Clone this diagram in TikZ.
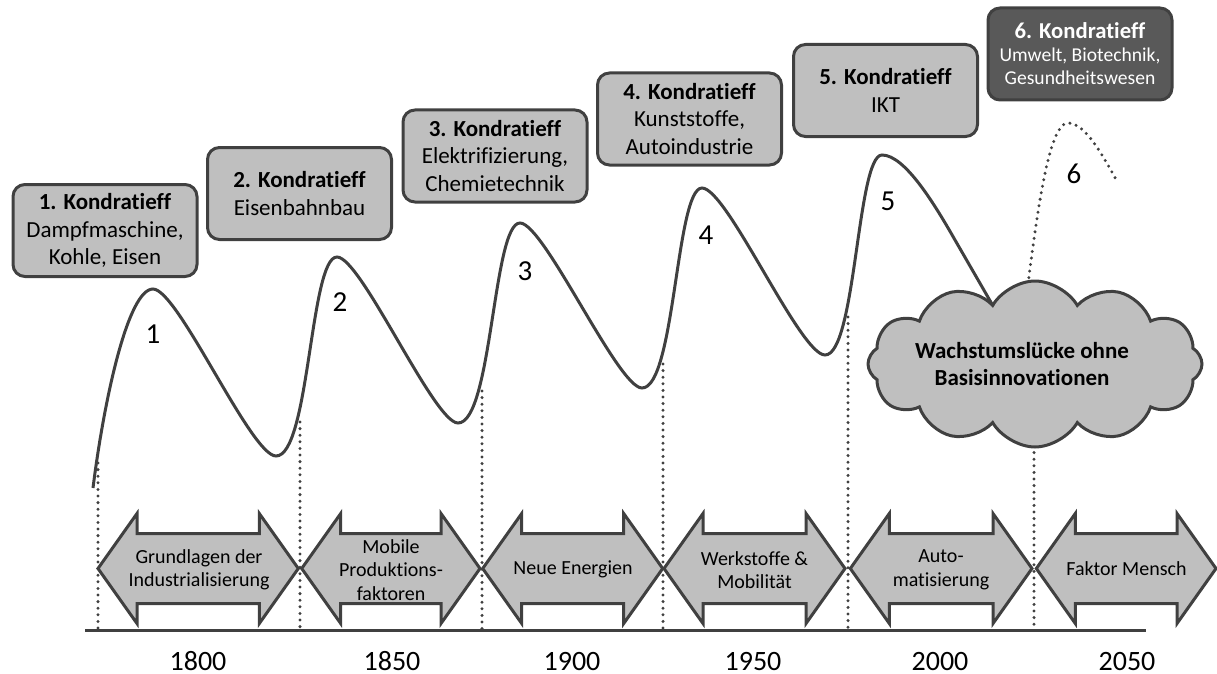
\documentclass[tikz,border=0pt]{standalone}
\usepackage{fontspec}
\setmainfont{Carlito}[Ligatures=NoCommon, Numbers=Lining]
\usetikzlibrary{shapes.symbols}
\definecolor{edge}{HTML}{404040}
\definecolor{boxfill}{HTML}{BFBFBF}
\definecolor{darkfill}{HTML}{595959}
\begin{document}
\begin{tikzpicture}[x=1pt,y=-1pt,
  kbox/.style={draw=edge, fill=boxfill, line width=3pt, rounded corners=12pt,
    minimum width=184pt, minimum height=92pt, align=center, inner sep=0pt,
    font=\fontsize{23}{27.5}\selectfont},
  darkbox/.style={kbox, fill=darkfill, text=white},
  curve/.style={draw=edge, line width=3pt},
  dots/.style={draw=edge, line width=3.3pt, line cap=round, dash pattern=on 0pt off 6.6pt},
  arrowshape/.style={draw=edge, fill=boxfill, line width=3pt, line join=miter},
  arrowtext/.style={align=center, inner sep=0pt, font=\fontsize{20}{23.5}\selectfont},
  yeartext/.style={inner sep=0pt, anchor=base, font=\fontsize{28}{32}\selectfont},
  wavenum/.style={inner sep=0pt, anchor=base, font=\fontsize{29}{32}\selectfont},
  cloudshape/.style={cloud, cloud puffs=12, cloud puff arc=120, aspect=2,
    draw=edge, fill=boxfill, line width=3pt, minimum width=334pt, minimum height=166pt, inner sep=0pt}
]
\useasboundingbox (0,0) rectangle (1217,674);

% coordinates for dotted lines
\coordinate (d1t) at (98,463);   \coordinate (d1b) at (98,630);
\coordinate (d2t) at (300,422);  \coordinate (d2b) at (300,630);
\coordinate (d3t) at (482,391);  \coordinate (d3b) at (482,630);
\coordinate (d4t) at (663,364);  \coordinate (d4b) at (663,630);
\coordinate (d5t) at (848,317);  \coordinate (d5b) at (848,630);
\coordinate (d6t) at (1034,380); \coordinate (d6b) at (1034,630);

\foreach \i in {1,...,6} { \draw[dots] (d\i t) -- (d\i b); }

% main wave
\coordinate (s0) at (93,488);
\coordinate (p1) at (153,289);
\coordinate (t1) at (276,456);
\coordinate (p2) at (337,257);
\coordinate (t2) at (458,423);
\coordinate (p3) at (520,223);
\coordinate (t3) at (642,388);
\coordinate (p4) at (702,188);
\coordinate (t4) at (825,355);
\coordinate (p5) at (882,155);
\coordinate (e5) at (1000,318);
\draw[curve] (s0) .. controls (104,400) and (128,289) .. (p1)
  .. controls (178,289) and (251,456) .. (t1)
  .. controls (309.5,456) and (310,257) .. (p2)
  .. controls (361,257) and (434,423) .. (t2)
  .. controls (492,423) and (493,223) .. (p3)
  .. controls (544,223) and (618,388) .. (t3)
  .. controls (675,388) and (676,188) .. (p4)
  .. controls (727,188) and (800,355) .. (t4)
  .. controls (856,355) and (857,155) .. (p5)
  .. controls (905,155) and (935,205) .. (955,240) -- (e5);

% dotted future wave
\coordinate (f0) at (1022,330);
\coordinate (p6) at (1068,123);
\coordinate (f1) at (1118,183);
\draw[dots] (f0) .. controls (1034,240) and (1046,123) .. (p6)
  .. controls (1086,123) and (1104,158) .. (f1);

% cloud
\node[cloudshape] (gap) at (1035,364) {};
\node[inner sep=0pt, align=center, font=\fontsize{23}{27}\selectfont\bfseries] (gaptext) at (1022,364)
  {Wachstumslücke ohne\\Basisinnovationen};

% wave numbers (baselines)
\node[wavenum] (n1) at (153,343) {1};
\node[wavenum] (n2) at (340,311) {2};
\node[wavenum] (n3) at (525,280) {3};
\node[wavenum] (n4) at (706,244) {4};
\node[wavenum] (n5) at (888,210) {5};
\node[wavenum] (n6) at (1074,183) {6};

% boxes
\node[kbox] (k1) at (105,230.5) {\textbf{1. Kondratieff}\\Dampfmaschine,\\Kohle, Eisen};
\node[kbox] (k2) at (299.5,193.5) {\textbf{2. Kondratieff}\\Eisenbahnbau};
\node[kbox] (k3) at (495,156) {\textbf{3. Kondratieff}\\Elektrifizierung,\\Chemietechnik};
\node[kbox] (k4) at (689.5,119) {\textbf{4. Kondratieff}\\Kunststoffe,\\Autoindustrie};
\node[kbox] (k5) at (885.5,90.5) {\textbf{5. Kondratieff}\\IKT};
\node[darkbox, font=\fontsize{19.6}{23}\selectfont] (k6) at (1080,54)
  {{\fontsize{22.7}{23}\selectfont\bfseries 6. Kondratieff}\\Umwelt, Biotechnik,\\Gesundheitswesen};

% double arrows
\foreach \l/\r in {98/298.3, 301.7/480, 482.7/662.7, 664/845, 850.3/1032, 1036.3/1216} {
  \draw[arrowshape] (\l,568.5) -- (\l+39,513.5) -- (\l+39,533.5) -- (\r-39,533.5) -- (\r-39,513.5)
    -- (\r,568.5) -- (\r-39,623.5) -- (\r-39,603.5) -- (\l+39,603.5) -- (\l+39,623.5) -- cycle;
}
\node[arrowtext] (a1) at (199,570) {Grundlagen der\\Industrialisierung};
\node[arrowtext] (a2) at (391,570) {Mobile\\Produktions-\\faktoren};
\node[arrowtext] (a3) at (573,569) {Neue Energien};
\node[arrowtext] (a4) at (754.5,570) {Werkstoffe \&\\Mobilität};
\node[arrowtext] (a5) at (941,570) {Auto-\\matisierung};
\node[arrowtext] (a6) at (1126.5,569) {Faktor Mensch};

% axis
\coordinate (ax0) at (85,630);
\coordinate (ax1) at (1146,630);
\draw[draw=edge, line width=3pt] (ax0) -- (ax1);

% years (baselines)
\node[yeartext] (y1) at (198,670) {1800};
\node[yeartext] (y2) at (392,670) {1850};
\node[yeartext] (y3) at (572,670) {1900};
\node[yeartext] (y4) at (753,670) {1950};
\node[yeartext] (y5) at (940,670) {2000};
\node[yeartext] (y6) at (1127,670) {2050};
\end{tikzpicture}
\end{document}
